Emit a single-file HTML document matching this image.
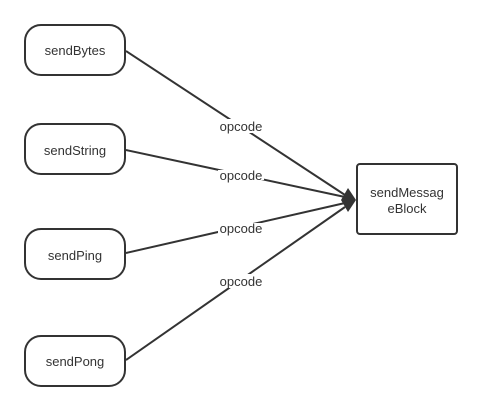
<!DOCTYPE html><html><head><style>body{margin:0;background:#fff}</style></head><body>
<svg width="482" height="411" xmlns="http://www.w3.org/2000/svg" font-family="Liberation Sans, sans-serif" font-size="13" fill="#333">
<g stroke="#333" stroke-width="2" fill="none">
<rect x="25" y="25" width="100" height="50" rx="16"/>
<rect x="25" y="124" width="100" height="50" rx="16"/>
<rect x="25" y="229" width="100" height="50" rx="16"/>
<rect x="25" y="336" width="100" height="50" rx="16"/>
<rect x="357" y="164" width="100" height="70" rx="3"/>
<line x1="126" y1="51" x2="345" y2="195"/>
<line x1="126" y1="150" x2="345" y2="197"/>
<line x1="126" y1="253" x2="345" y2="203"/>
<line x1="126" y1="360" x2="345" y2="207"/>
</g>
<polygon points="348,188 356,200 348,212 341,200" fill="#333"/>
<g fill="#fff"><rect x="218" y="119" width="46" height="14"/><rect x="218" y="170" width="46" height="10"/><rect x="218" y="223" width="46" height="10"/><rect x="218" y="274" width="46" height="14"/></g>
<g text-anchor="middle">
<text x="241" y="131">opcode</text><text x="241" y="180">opcode</text><text x="241" y="233">opcode</text><text x="241" y="286">opcode</text>
<text x="75" y="55">sendBytes</text><text x="75" y="155">sendString</text><text x="75" y="260">sendPing</text><text x="75" y="366">sendPong</text>
<text x="407" y="197">sendMessag</text><text x="407" y="213">eBlock</text>
</g>
</svg>
</body></html>
